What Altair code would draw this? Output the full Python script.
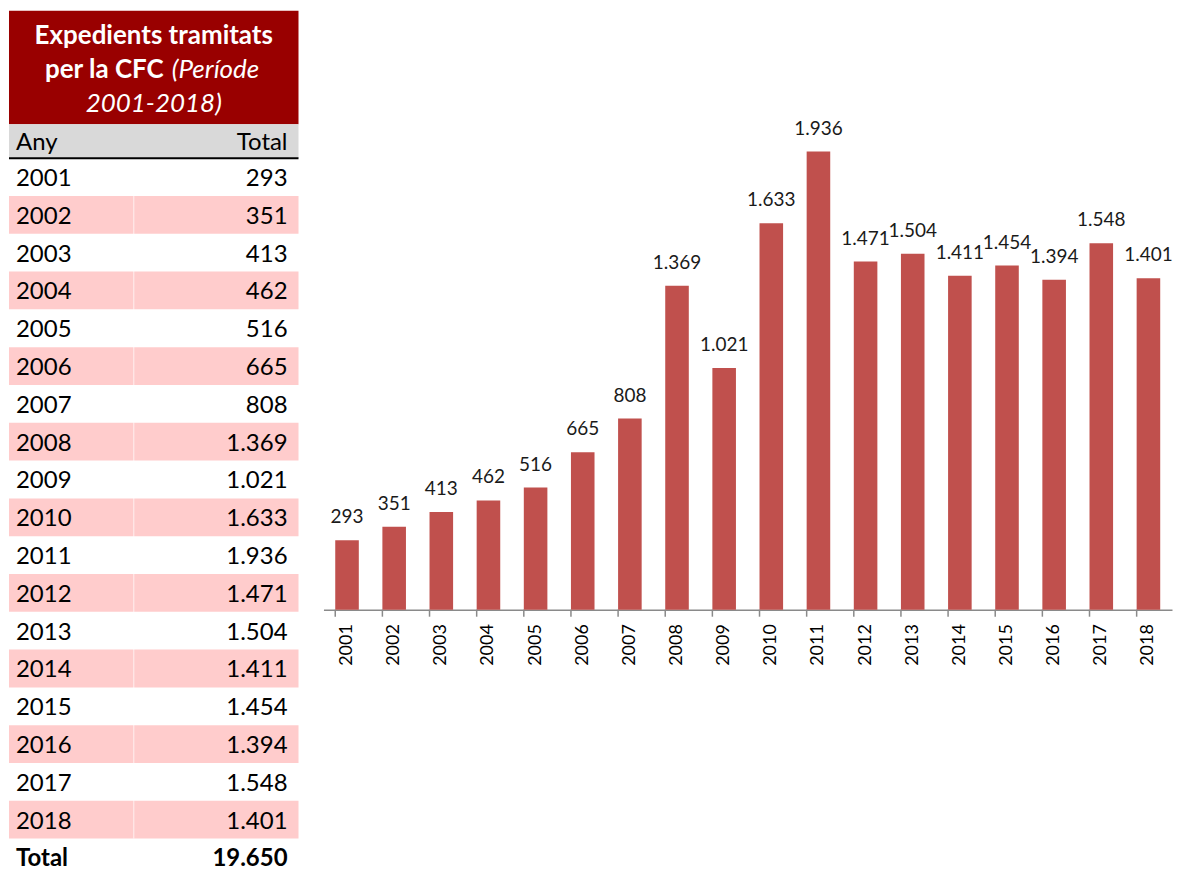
import altair as alt
import pandas as pd

# ---------------- data ----------------
years = [str(y) for y in range(2001, 2019)]
totals = [293, 351, 413, 462, 516, 665, 808, 1369, 1021, 1633,
          1936, 1471, 1504, 1411, 1454, 1394, 1548, 1401]
title_bold = ["Expedients tramitats", "per la CFC"]
title_italic = ["(Període", "2001-2018)"]
col_headers = ["Any", "Total"]
total_label = "Total"


def fmt(n):
    return f"{n:,}".replace(",", ".")


FONT = "Lato"
RED = "#990000"
PINK = "#ffcccc"
GRAY = "#d9d9d9"
BAR = "#c0504d"
AXIS = "#8a8a8a"

# ---------------- table panel ----------------
TITLE_ROWS = 3
HEAD_ROWS = 0.9
FIRST = TITLE_ROWS + HEAD_ROWS
W = 290
H = 852
ys = alt.Scale(domain=[0, 22.5], reverse=True, nice=False, zero=False)

rows = pd.DataFrame({"year": years, "total": totals,
                     "label": [fmt(v) for v in totals]})
rows["i"] = range(len(rows))
rows["y0"] = FIRST + rows["i"]
rows["y1"] = rows["y0"] + 1
rows["yc"] = rows["y0"] + 0.5
pink_rows = rows[rows["i"] % 2 == 1]

blocks = pd.DataFrame({"y0": [0, TITLE_ROWS], "y1": [TITLE_ROWS, FIRST],
                       "c": [RED, GRAY]})
bg = alt.Chart(blocks).mark_rect().encode(
    x=alt.value(0), x2=alt.value(W),
    y=alt.Y("y0:Q", scale=ys, axis=None), y2="y1:Q",
    color=alt.Color("c:N", scale=None))

pink = alt.Chart(pink_rows).mark_rect(color=PINK).encode(
    x=alt.value(0), x2=alt.value(W),
    y=alt.Y("y0:Q", scale=ys, axis=None), y2="y1:Q")

sep = alt.Chart(pd.DataFrame({"y0": [FIRST], "y1": [FIRST + len(years)]})).mark_rule(
    color="white", strokeWidth=1, opacity=0.7).encode(
    x=alt.value(125), y=alt.Y("y0:Q", scale=ys, axis=None), y2="y1:Q")

hline = alt.Chart(pd.DataFrame({"y": [FIRST]})).mark_rule(
    color="black", strokeWidth=2).encode(
    x=alt.value(0), x2=alt.value(W), y=alt.Y("y:Q", scale=ys, axis=None))

txt = dict(font=FONT, fontSize=24, baseline="middle", color="black", dy=2)
yr_text = alt.Chart(rows).mark_text(align="left", **txt).encode(
    x=alt.value(7), y=alt.Y("yc:Q", scale=ys, axis=None), text="year:N")
val_text = alt.Chart(rows).mark_text(align="right", **txt).encode(
    x=alt.value(W - 11), y=alt.Y("yc:Q", scale=ys, axis=None), text="label:N")

hdr = pd.DataFrame({"t": col_headers, "y": [TITLE_ROWS + HEAD_ROWS / 2] * 2})
hdr_l = alt.Chart(hdr.iloc[[0]]).mark_text(align="left", **txt).encode(
    x=alt.value(7), y=alt.Y("y:Q", scale=ys, axis=None), text="t:N")
hdr_r = alt.Chart(hdr.iloc[[1]]).mark_text(align="right", **txt).encode(
    x=alt.value(W - 11), y=alt.Y("y:Q", scale=ys, axis=None), text="t:N")

tot = pd.DataFrame({"t": [total_label], "v": [fmt(sum(totals))],
                    "y": [FIRST + len(years) + 0.5]})
tot_l = alt.Chart(tot).mark_text(align="left", fontWeight="bold", **txt).encode(
    x=alt.value(7), y=alt.Y("y:Q", scale=ys, axis=None), text="t:N")
tot_r = alt.Chart(tot).mark_text(align="right", fontWeight="bold", **txt).encode(
    x=alt.value(W - 11), y=alt.Y("y:Q", scale=ys, axis=None), text="v:N")

ttl = dict(font=FONT, fontSize=26, baseline="middle", color="white")
t1 = alt.Chart(pd.DataFrame({"t": [title_bold[0]], "y": [0.68]})).mark_text(
    align="center", fontWeight="bold", **ttl).encode(
    x=alt.value(W / 2), y=alt.Y("y:Q", scale=ys, axis=None), text="t:N")
t2a = alt.Chart(pd.DataFrame({"t": [title_bold[1]], "y": [1.57]})).mark_text(
    align="right", fontWeight="bold", **ttl).encode(
    x=alt.value(155), y=alt.Y("y:Q", scale=ys, axis=None), text="t:N")
t2b = alt.Chart(pd.DataFrame({"t": [title_italic[0]], "y": [1.57]})).mark_text(
    align="left", fontStyle="italic", **ttl).encode(
    x=alt.value(163), y=alt.Y("y:Q", scale=ys, axis=None), text="t:N")
t3 = alt.Chart(pd.DataFrame({"t": [title_italic[1]], "y": [2.46]})).mark_text(
    align="center", fontStyle="italic", **ttl).encode(
    x=alt.value(W / 2), y=alt.Y("y:Q", scale=ys, axis=None), text="t:N")

table = alt.layer(bg, pink, sep, hline, yr_text, val_text, hdr_l, hdr_r,
                  tot_l, tot_r, t1, t2a, t2b, t3).properties(width=W, height=H)

# ---------------- bar panel ----------------
bars_df = pd.DataFrame({"year": years, "total": totals,
                        "label": [fmt(v) for v in totals]})
BW = 850
BH = 600
xscale = alt.Scale(paddingInner=0.5, paddingOuter=0.25)
xaxis = alt.Axis(title=None, labelAngle=-90, labelFont=FONT, labelFontSize=18,
                 labelColor="black", domainColor=AXIS, domainWidth=1.5,
                 ticks=False, labelPadding=14)
yscale = alt.Scale(domain=[0, 2531], nice=False)

bars = alt.Chart(bars_df).mark_bar(color=BAR).encode(
    x=alt.X("year:N", scale=xscale, axis=xaxis, sort=None),
    y=alt.Y("total:Q", scale=yscale, axis=None))
labels = alt.Chart(bars_df).mark_text(
    font=FONT, fontSize=19, baseline="alphabetic", dy=-17, color="#1a1a1a").encode(
    x=alt.X("year:N", scale=xscale, axis=xaxis, sort=None),
    y=alt.Y("total:Q", scale=yscale, axis=None),
    text="label:N")
ticks = alt.Chart(bars_df).mark_rule(color=AXIS, strokeWidth=1.5).encode(
    x=alt.X("year:N", scale=xscale, axis=xaxis, sort=None, bandPosition=0),
    y=alt.value(BH), y2=alt.value(BH + 7))

barchart = alt.layer(bars, ticks, labels).properties(width=BW, height=BH)

chart = alt.hconcat(table, barchart, spacing=24).properties(
    padding={"left": 0, "top": 2, "right": 0, "bottom": 0}
).configure_view(stroke=None)

chart.save("out.html", embed_options={"renderer": "svg", "actions": False})
